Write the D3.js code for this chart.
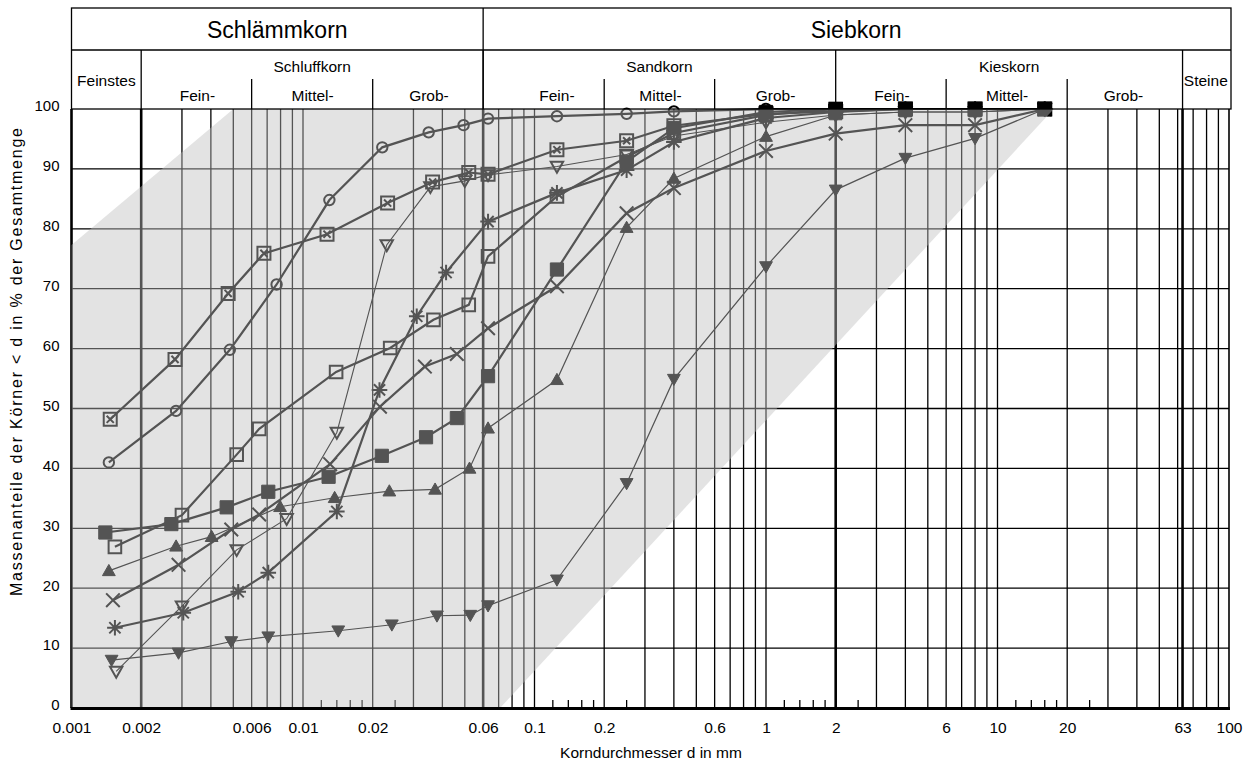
<!DOCTYPE html>
<html>
<head>
<meta charset="utf-8">
<script src="https://cdn.jsdelivr.net/npm/d3@7"></script>
<style>
  body { margin: 0; background: #fff; }
  text { font-family: "Liberation Sans", Arial, sans-serif; fill: #000; }
</style>
</head>
<body>
<div id="chart"></div>
<script>
// Korngrößenverteilung – Werte
// Korndurchmesser d [mm] und Siebdurchgang [%] je Probe

const dCircle = [0.00145, 0.00283, 0.00483, 0.00769, 0.013, 0.022, 0.0349, 0.0494, 0.063, 0.125, 0.25, 0.4, 1, 2, 4, 8, 16];
const pCircle = [41.0, 49.6, 59.8, 70.7, 84.8, 93.6, 96.1, 97.3, 98.4, 98.8, 99.2, 99.6, 100, 100, 100, 100, 100];

const dBoxX = [0.00147, 0.0028, 0.00475, 0.00678, 0.0127, 0.0232, 0.0363, 0.052, 0.063, 0.125, 0.25, 0.4, 1, 2, 4, 8, 16];
const pBoxX = [48.2, 58.2, 69.2, 75.9, 79.1, 84.3, 87.8, 89.4, 89.1, 93.2, 94.7, 97.2, 99.2, 99.6, 100, 100, 100];

const dTriOpen = [0.00156, 0.003, 0.00517, 0.0085, 0.014, 0.023, 0.0355, 0.05, 0.063, 0.125, 0.25, 0.4, 1, 2, 4, 8, 16];
const pTriOpen = [6.1, 17.0, 26.4, 31.6, 46.0, 77.3, 87.0, 88.0, 89.0, 90.4, 92.4, 95.5, 97.8, 99.0, 99.5, 99.5, 100];

const dStar = [0.00154, 0.00304, 0.00525, 0.00708, 0.014, 0.0214, 0.031, 0.0415, 0.063, 0.125, 0.25, 0.4, 1, 2, 4, 8, 16];
const pStar = [13.4, 15.9, 19.4, 22.6, 32.8, 53.1, 65.4, 72.7, 81.2, 86.0, 89.8, 94.5, 98.5, 99.5, 100, 100, 100];

const dBox = [0.00154, 0.003, 0.00517, 0.00647, 0.0139, 0.0238, 0.0366, 0.052, 0.063, 0.125, 0.25, 0.4, 1, 2, 4, 8, 16];
const pBox = [26.9, 32.2, 42.3, 46.6, 56.1, 60.1, 64.8, 67.3, 75.4, 85.4, 92.0, 96.0, 99.0, 100, 100, 100, 100];

const dCross = [0.00151, 0.0029, 0.0049, 0.00647, 0.0131, 0.0215, 0.0336, 0.0462, 0.063, 0.125, 0.25, 0.4, 1, 2, 4, 8, 16];
const pCross = [18.0, 23.9, 29.8, 32.3, 40.7, 50.3, 57.0, 59.1, 63.4, 70.4, 82.6, 86.8, 93.0, 95.9, 97.3, 97.3, 100];

const dFilled = [0.0014, 0.0027, 0.00468, 0.00708, 0.0129, 0.0219, 0.034, 0.0462, 0.063, 0.125, 0.25, 0.4, 1, 2, 4, 8, 16];
const pFilled = [29.3, 30.7, 33.5, 36.1, 38.6, 42.1, 45.2, 48.4, 55.4, 73.2, 91.2, 96.8, 99.5, 100, 100, 100, 100];

const dTriUp = [0.00145, 0.00283, 0.00403, 0.00796, 0.0137, 0.0236, 0.0372, 0.0524, 0.063, 0.125, 0.25, 0.4, 1, 2, 4, 8, 16];
const pTriUp = [22.9, 27.0, 28.6, 33.6, 35.1, 36.2, 36.5, 40.0, 46.7, 54.8, 80.2, 88.4, 95.4, 99.0, 99.5, 99.5, 100];

const dTriDown = [0.00149, 0.0029, 0.0049, 0.00708, 0.0142, 0.0242, 0.0379, 0.0528, 0.063, 0.125, 0.25, 0.4, 1, 2, 4, 8, 16];
const pTriDown = [8.0, 9.2, 11.1, 11.9, 12.9, 13.9, 15.4, 15.5, 17.1, 21.4, 37.5, 54.9, 73.7, 86.5, 91.8, 95.1, 100];

// Achsenbeschriftung
const xTickValues = [0.001, 0.002, 0.006, 0.01, 0.02, 0.06, 0.1, 0.2, 0.6, 1, 2, 6, 10, 20, 63, 100];
const yTickValues = [0, 10, 20, 30, 40, 50, 60, 70, 80, 90, 100];

// Kopfzeile (Bodenarten)
const topNames = ["Schlämmkorn", "Siebkorn"];
const topBounds = [0.001, 0.06, 100];
const groupNames = ["Feinstes", "Schluffkorn", "Sandkorn", "Kieskorn", "Steine"];
const groupBounds = [0.001, 0.002, 0.06, 2, 63, 100];
const subNames = ["Fein-", "Mittel-", "Grob-", "Fein-", "Mittel-", "Grob-", "Fein-", "Mittel-", "Grob-"];
const subBounds = [0.006, 0.02, 0.2, 0.6, 6, 20];

// grauer Bereich (Körnungsband)
const bandD = [0.001, 0.001, 0.005, 17.5, 0.071];
const bandP = [0, 77.3, 100, 100, 0];

// ---------------------------------------------------------------
const width = 1250, height = 764;
const svg = d3.select("#chart").append("svg")
    .attr("width", width)
    .attr("height", height);

svg.append("rect").attr("width", width).attr("height", height).attr("fill", "#fff");

const x = d3.scaleLog().domain([0.001, 100]).range([71.5, 1229]);
const y = d3.scaleLinear().domain([0, 100]).range([708, 109]);

// Gitter
const grid = svg.append("g");
const hLines = yTickValues.slice(1, -1);
grid.selectAll(".hline").data(hLines).enter().append("line")
    .attr("x1", x(0.001)).attr("x2", x(100))
    .attr("y1", d => y(d)).attr("y2", d => y(d))
    .attr("stroke", "#000").attr("stroke-width", 1.3);

const vLines = [];
for (let e = -3; e <= 1; e++) {
    for (let m = 2; m <= 9; m++) vLines.push(+(m * Math.pow(10, e)).toPrecision(3));
    if (e > -3) vLines.push(+Math.pow(10, e).toPrecision(3));
}
vLines.push(63);
const thick = [0.002, 0.06, 2, 63];
grid.selectAll(".vline").data(vLines).enter().append("line")
    .attr("x1", d => x(d)).attr("x2", d => x(d))
    .attr("y1", y(100)).attr("y2", y(0))
    .attr("stroke", "#000")
    .attr("stroke-width", d => thick.includes(d) ? 2.6 : 1.3);

// kleine Striche an der Abszisse
const minor = [];
for (let e = -2; e <= 1; e++) {
    [1.2, 1.4, 1.6, 1.8, 2.5].forEach(m => minor.push(m * Math.pow(10, e)));
}
grid.selectAll(".minor").data(minor).enter().append("line")
    .attr("x1", d => x(d)).attr("x2", d => x(d))
    .attr("y1", y(0) - 8).attr("y2", y(0))
    .attr("stroke", "#000").attr("stroke-width", 1.3);

// linker und rechter Rand
grid.append("line")
    .attr("x1", x(0.001)).attr("x2", x(0.001))
    .attr("y1", y(100)).attr("y2", y(0))
    .attr("stroke", "#000").attr("stroke-width", 2.6);
grid.append("line")
    .attr("x1", x(100)).attr("x2", x(100))
    .attr("y1", y(100)).attr("y2", y(0))
    .attr("stroke", "#000").attr("stroke-width", 1.6);

// Markersymbole (Größe = halbe Breite)
const mCircle = { draw(c, r) { c.moveTo(r, 0); c.arc(0, 0, r, 0, 2 * Math.PI); } };
const mSquare = { draw(c, r) { c.rect(-r, -r, 2 * r, 2 * r); } };
const mTimes = { draw(c, r) { c.moveTo(-r, -r); c.lineTo(r, r); c.moveTo(-r, r); c.lineTo(r, -r); } };
const mBoxX = { draw(c, r) {
    c.rect(-r, -r, 2 * r, 2 * r);
    const q = r * 0.55;
    c.moveTo(-q, -q); c.lineTo(q, q); c.moveTo(-q, q); c.lineTo(q, -q);
} };
const mStar = { draw(c, r) {
    c.moveTo(0, -r); c.lineTo(0, r);
    c.moveTo(-r, 0); c.lineTo(r, 0);
    const q = r * 0.72;
    c.moveTo(-q, -q); c.lineTo(q, q); c.moveTo(-q, q); c.lineTo(q, -q);
} };
const mTriUp = { draw(c, r) { c.moveTo(0, -r); c.lineTo(r, r * 0.75); c.lineTo(-r, r * 0.75); c.closePath(); } };
const mTriDown = { draw(c, r) { c.moveTo(0, r); c.lineTo(r, -r * 0.75); c.lineTo(-r, -r * 0.75); c.closePath(); } };

const series = [
    { d: dTriDown, p: pTriDown, type: mTriDown, r: 6.4, fill: "#000", lw: 1.2 },
    { d: dTriUp,   p: pTriUp,   type: mTriUp,   r: 6.4, fill: "#000", lw: 1.2 },
    { d: dTriOpen, p: pTriOpen, type: mTriDown, r: 6.2, fill: "none", lw: 1.1 },
    { d: dFilled,  p: pFilled,  type: mSquare,  r: 6.6, fill: "#000", lw: 2.2 },
    { d: dCross,   p: pCross,   type: mTimes,   r: 6.8, fill: "none", lw: 2.2 },
    { d: dBox,     p: pBox,     type: mSquare,  r: 6.3, fill: "none", lw: 2.2 },
    { d: dStar,    p: pStar,    type: mStar,    r: 7.8, fill: "none", lw: 2.2 },
    { d: dBoxX,    p: pBoxX,    type: mBoxX,    r: 6.5, fill: "none", lw: 2.2 },
    { d: dCircle,  p: pCircle,  type: mCircle,  r: 5.2, fill: "none", lw: 2.2 }
];

const line = d3.line()
    .x(d => x(d[0]))
    .y(d => y(d[1]));

const plot = svg.append("g");
series.forEach(s => {
    const pts = s.d.map((v, i) => [v, s.p[i]]);
    plot.append("path")
        .datum(pts)
        .attr("fill", "none")
        .attr("stroke", "#000")
        .attr("stroke-width", s.lw)
        .attr("d", line);
});
series.forEach(s => {
    const pts = s.d.map((v, i) => [v, s.p[i]]);
    const sym = d3.symbol().type(s.type).size(s.r);
    plot.selectAll(null).data(pts).enter().append("path")
        .attr("transform", d => `translate(${x(d[0])},${y(d[1])})`)
        .attr("d", sym)
        .attr("fill", s.fill)
        .attr("stroke", "#000")
        .attr("stroke-width", s.fill === "none" ? 2 : 1);
});

// halbtransparentes Körnungsband darüber
const band = bandD.map((v, i) => [x(v), y(bandP[i])]);
svg.append("polygon")
    .attr("points", band.map(p => p.join(",")).join(" "))
    .attr("fill", "rgb(192,192,192)")
    .attr("fill-opacity", 0.44);

// Abszisse
svg.append("line")
    .attr("x1", x(0.001) - 1).attr("x2", x(100) + 1)
    .attr("y1", y(0) + 0.5).attr("y2", y(0) + 0.5)
    .attr("stroke", "#000").attr("stroke-width", 3);

const xAxis = svg.append("g")
    .attr("transform", `translate(0,${y(0)})`)
    .call(d3.axisBottom(x).tickValues(xTickValues).tickFormat(d => String(d)).tickSize(0).tickPadding(14));
xAxis.select(".domain").remove();
xAxis.selectAll("text").style("font-size", "15.5px").attr("font-family", null);

const yAxis = svg.append("g")
    .attr("transform", `translate(${x(0.001)},0)`)
    .call(d3.axisLeft(y).tickValues(yTickValues).tickSize(0).tickPadding(12));
yAxis.select(".domain").remove();
yAxis.selectAll("text").style("font-size", "15px").attr("dy", "0.12em").attr("font-family", null);

svg.append("text")
    .attr("x", 651).attr("y", 758)
    .attr("text-anchor", "middle")
    .style("font-size", "15.5px")
    .text("Korndurchmesser d in mm");

svg.append("text")
    .attr("transform", "translate(22,362) rotate(-90)")
    .attr("text-anchor", "middle")
    .attr("textLength", 468)
    .attr("lengthAdjust", "spacing")
    .style("font-size", "16px")
    .text("Massenanteile der Körner < d in % der Gesamtmenge");

// Kopfzeile
const head = svg.append("g");
const hTop = 8, hMid = 50, hSub = 79, hBot = y(100);
const xL = x(0.001), xR = x(100) + 2;

head.append("rect")
    .attr("x", xL).attr("y", hTop)
    .attr("width", xR - xL).attr("height", hBot - hTop)
    .attr("fill", "none").attr("stroke", "#000").attr("stroke-width", 1.3);
head.append("line")
    .attr("x1", xL).attr("x2", xR).attr("y1", hMid).attr("y2", hMid)
    .attr("stroke", "#000").attr("stroke-width", 1.3);
head.append("line")
    .attr("x1", x(0.06)).attr("x2", x(0.06)).attr("y1", hTop).attr("y2", hBot)
    .attr("stroke", "#000").attr("stroke-width", 1.3);

head.selectAll(".gdiv").data(groupBounds.slice(1, -1)).enter().append("line")
    .attr("x1", d => x(d)).attr("x2", d => x(d))
    .attr("y1", hMid).attr("y2", hBot)
    .attr("stroke", "#000").attr("stroke-width", 1.3);

head.selectAll(".sdiv").data(subBounds).enter().append("line")
    .attr("x1", d => x(d)).attr("x2", d => x(d))
    .attr("y1", hSub).attr("y2", hBot)
    .attr("stroke", "#000").attr("stroke-width", 1.3);

head.selectAll(".top").data(topNames).enter().append("text")
    .attr("x", (d, i) => (x(topBounds[i]) + Math.min(x(topBounds[i + 1]), xR)) / 2)
    .attr("y", 38)
    .attr("text-anchor", "middle")
    .style("font-size", "23px")
    .text(d => d);

head.selectAll(".grp").data(groupNames).enter().append("text")
    .attr("x", (d, i) => (x(groupBounds[i]) + Math.min(x(groupBounds[i + 1]), xR)) / 2)
    .attr("y", (d, i) => (i === 0 || i === groupNames.length - 1) ? 86 : 72)
    .attr("text-anchor", "middle")
    .style("font-size", "15.5px")
    .text(d => d);

// Lage der Unterteilungs-Texte
const subLabelAt = [0.0035, 0.011, 0.035, 0.125, 0.35, 1.1, 3.5, 11, 35];
head.selectAll(".sub").data(subNames).enter().append("text")
    .attr("x", (d, i) => x(subLabelAt[i]))
    .attr("y", 101)
    .attr("text-anchor", "middle")
    .style("font-size", "15.5px")
    .text(d => d);
</script>
</body>
</html>
